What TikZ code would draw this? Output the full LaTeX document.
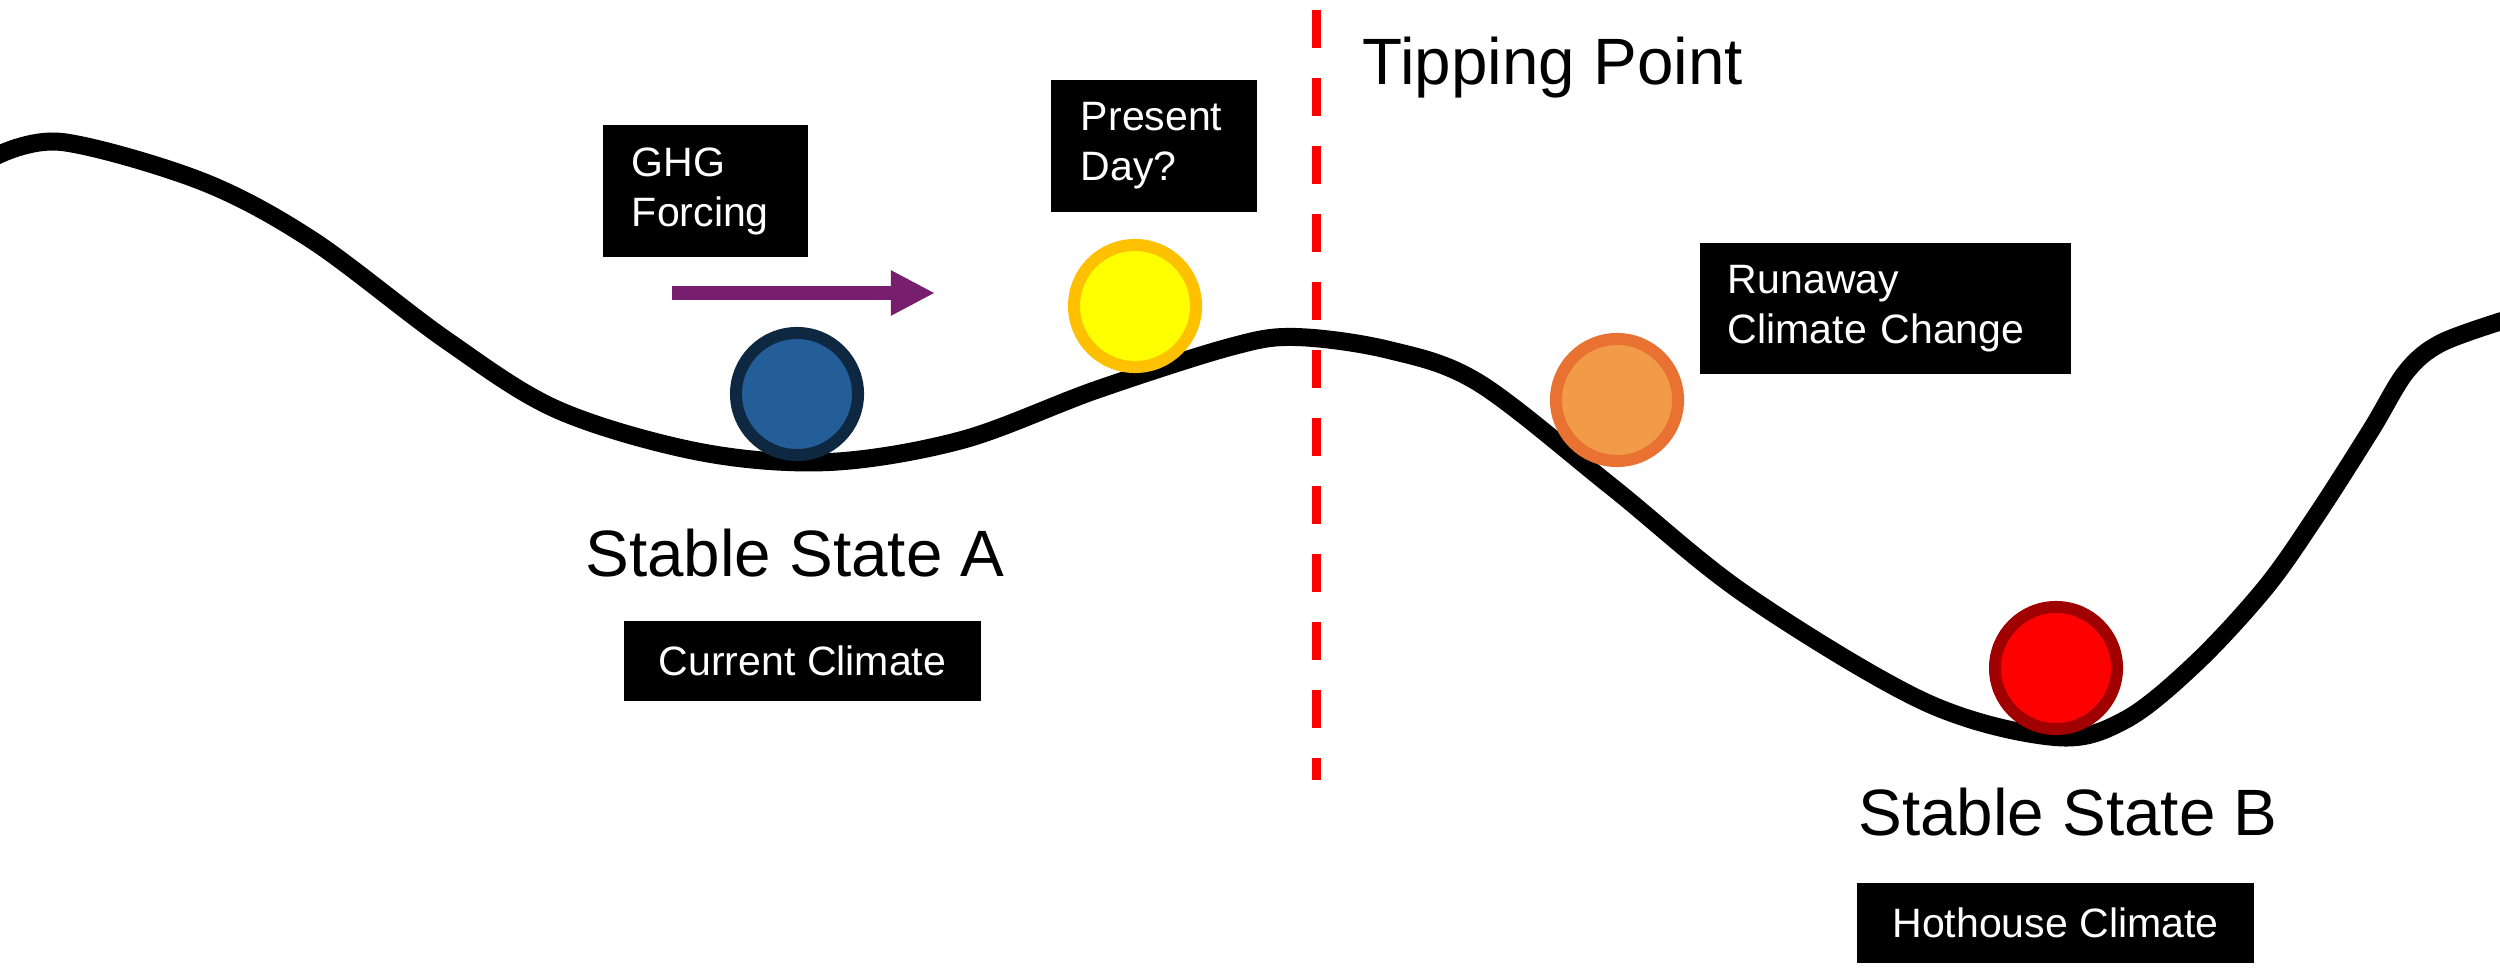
\documentclass[tikz,border=0pt]{standalone}
\usepackage{fontspec}
\setmainfont{Liberation Sans}
\usetikzlibrary{arrows.meta}
\definecolor{ballblue}{RGB}{36,94,152}
\definecolor{ballblueline}{RGB}{14,40,66}
\definecolor{ballyellow}{RGB}{255,255,0}
\definecolor{ballyellowline}{RGB}{255,192,0}
\definecolor{ballorange}{RGB}{241,155,72}
\definecolor{ballorangeline}{RGB}{233,113,50}
\definecolor{ballred}{RGB}{255,0,0}
\definecolor{ballredline}{RGB}{160,0,0}
\definecolor{forcepurple}{RGB}{120,30,110}
\definecolor{tipred}{RGB}{255,0,0}
\tikzset{
  landscape/.style={line width=0.18cm, black, line cap=butt},
  ball/.style={circle, minimum size=1.22cm, line width=0.12cm, inner sep=0pt},
  blackbox/.style={fill=black, text=white, inner ysep=0pt,
    font=\fontsize{11.67pt}{14.23pt}\selectfont},
  bigl/.style={font=\fontsize{18.64pt}{22pt}\selectfont, inner sep=0pt},
  forcearrow/.style={line width=0.14cm, forcepurple,
    -{Triangle[length=0.44cm, width=0.42cm]}},
  tipline/.style={line width=0.09cm, tipred, dash pattern=on 0.38cm off 0.30cm}
}
\begin{document}
\begin{tikzpicture}[x=0.01cm, y=-0.01cm]
\useasboundingbox (0,0) rectangle (2500,976);
% landscape curve
\draw[landscape] plot[smooth, tension=0.55] coordinates {
 (-4,156) (62,142) (201,181) (312,240) (446,340) (558,410) (700,452)
 (829,462) (962,440) (1096,390) (1230,347) (1295,337) (1389,350)
 (1479,383) (1612,487) (1746,595) (1925,702) (2055,737)
 (2125,720) (2196,663) (2266,587) (2318,513) (2371,430) (2406,372)
 (2441,343) (2505,320)};
% balls
\node[ball, fill=ballblue, draw=ballblueline] (blueball) at (797,394) {};
\node[ball, fill=ballyellow, draw=ballyellowline] (yellowball) at (1135,306) {};
\node[ball, fill=ballorange, draw=ballorangeline] (orangeball) at (1617,400) {};
\node[ball, fill=ballred, draw=ballredline] (redball) at (2056,668) {};
% forcing arrow
\coordinate (arrS) at (672,293);
\coordinate (arrE) at (935,293);
\draw[forcearrow] (arrS) -- (arrE);
% tipping point line
\coordinate (tpTop) at (1316,10);
\coordinate (tpBot) at (1316,780);
\draw[tipline] (tpTop) -- (tpBot);
% boxes
\node[blackbox, text width=1.47cm, align=left, inner xsep=0.29cm,
      minimum width=2.05cm, minimum height=1.32cm] (ghg) at (705.5,191)
      {GHG\\Forcing};
\node[blackbox, text width=1.46cm, align=left, inner xsep=0.30cm,
      minimum width=2.06cm, minimum height=1.32cm] (present) at (1154,146)
      {Present\\Day?};
\node[blackbox, text width=3.15cm, align=left, inner xsep=0.28cm,
      minimum width=3.71cm, minimum height=1.31cm] (runaway) at (1885.5,308.5)
      {Runaway\\Climate Change};
\node[blackbox, inner xsep=0pt, minimum width=3.57cm, minimum height=0.80cm]
      (current) at (802.5,661) {Current Climate};
\node[blackbox, inner xsep=0pt, minimum width=3.97cm, minimum height=0.80cm]
      (hothouse) at (2055.5,923) {Hothouse Climate};
% big labels
\node[bigl, anchor=base west] (tipping) at (1362,85) {Tipping Point};
\node[bigl, anchor=base] (stableA) at (795,576) {Stable State A};
\node[bigl, anchor=base] (stableB) at (2068,835) {Stable State B};
\end{tikzpicture}
\end{document}
